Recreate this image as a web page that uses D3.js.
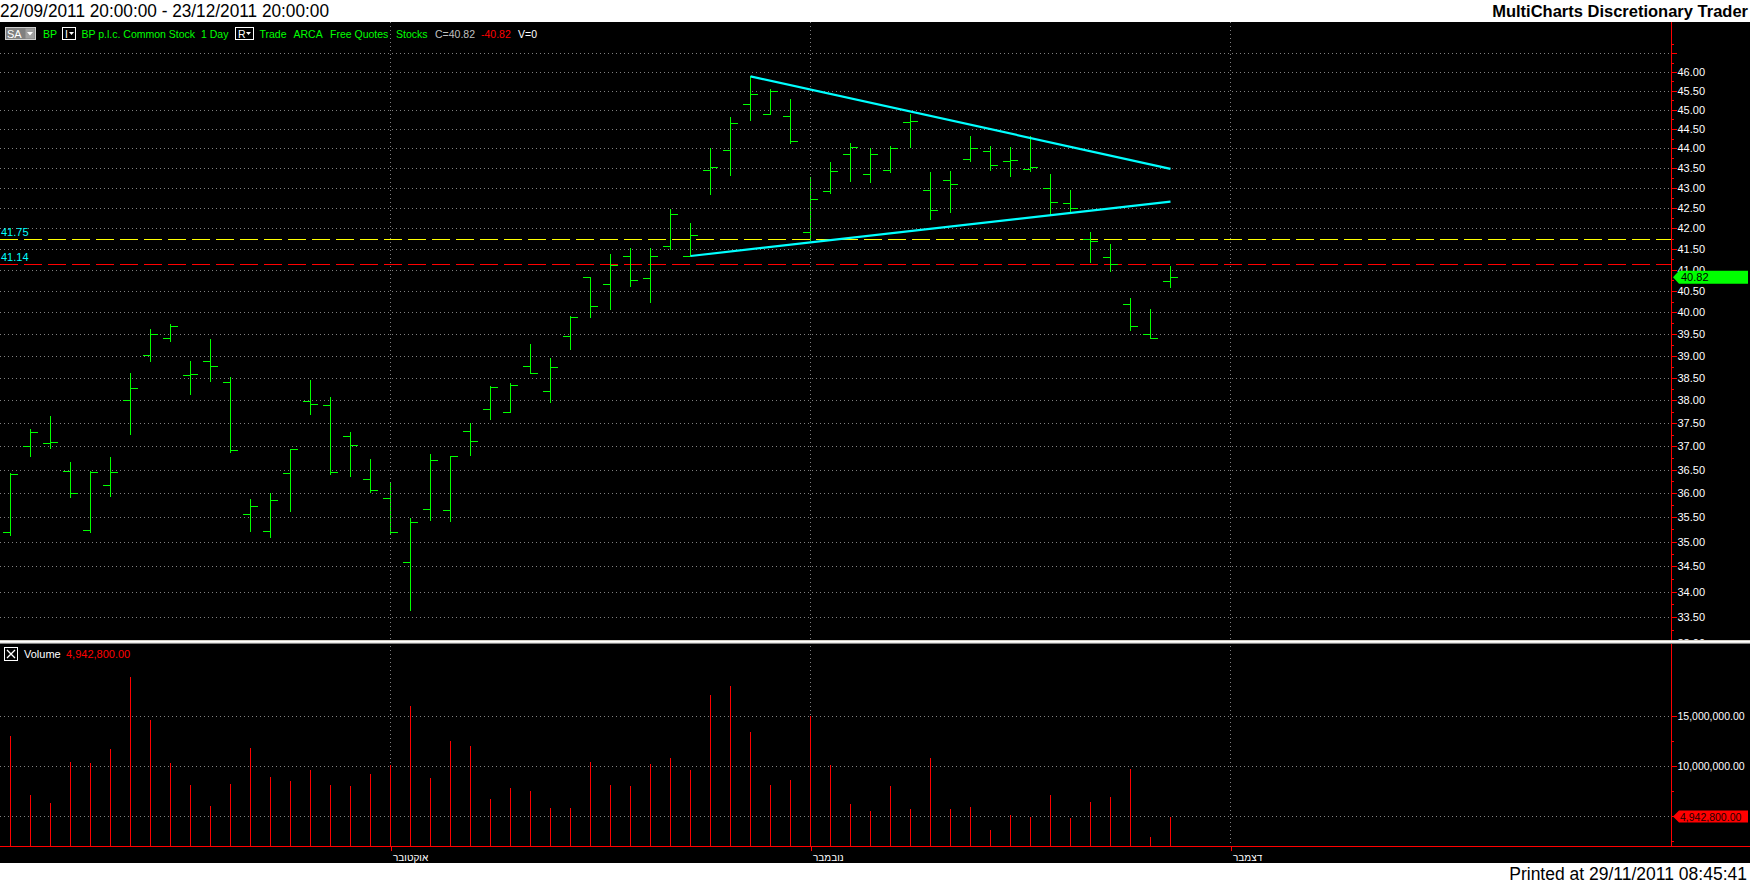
<!DOCTYPE html>
<html>
<head>
<meta charset="utf-8">
<script src="https://d3js.org/d3.v7.min.js"></script>
<style>
  body { margin: 0; background: #fff; }
  svg { display: block; }
  text { font-family: "Liberation Sans", Arial, sans-serif; }
</style>
</head>
<body>
<svg id="chart" width="1750" height="884"></svg>
<script>
// ---- data ----
const dates = [
  "2011-09-06","2011-09-07","2011-09-08","2011-09-09","2011-09-12","2011-09-13","2011-09-14","2011-09-15","2011-09-16",
  "2011-09-19","2011-09-20","2011-09-21","2011-09-22","2011-09-23","2011-09-26","2011-09-27","2011-09-28","2011-09-29","2011-09-30",
  "2011-10-03","2011-10-04","2011-10-05","2011-10-06","2011-10-07","2011-10-10","2011-10-11","2011-10-12","2011-10-13","2011-10-14",
  "2011-10-17","2011-10-18","2011-10-19","2011-10-20","2011-10-21","2011-10-24","2011-10-25","2011-10-26","2011-10-27","2011-10-28","2011-10-31",
  "2011-11-01","2011-11-02","2011-11-03","2011-11-04","2011-11-07","2011-11-08","2011-11-09","2011-11-10","2011-11-11",
  "2011-11-14","2011-11-15","2011-11-16","2011-11-17","2011-11-18","2011-11-21","2011-11-22","2011-11-23","2011-11-25","2011-11-28"
];
const opens  = [35.19,37.00,37.06,36.46,35.23,36.17,38.00,39.02,39.41,38.57,38.89,38.41,35.56,35.21,36.42,37.98,37.89,37.21,36.30,
                35.90,34.58,35.68,35.66,37.32,37.80,37.75,38.77,38.20,39.45,40.83,40.67,41.33,40.81,41.57,41.33,43.45,43.97,45.16,44.88,44.85,
                41.90,42.92,43.85,43.35,43.45,44.68,42.95,43.20,43.72,43.93,43.68,43.48,43.00,42.63,41.74,41.31,40.18,39.50,40.73];
const highs  = [36.42,37.38,37.66,36.66,36.46,36.76,38.60,39.60,39.72,38.89,39.39,38.53,35.88,36.00,36.95,38.46,38.07,37.31,36.72,
                36.22,35.48,36.83,36.80,37.50,38.31,38.39,39.26,38.94,39.91,40.83,41.38,41.53,41.53,42.48,42.13,44.00,44.81,45.90,45.54,45.27,
                43.27,43.66,44.14,44.00,44.05,44.88,43.41,43.43,44.33,44.06,44.03,44.32,43.35,42.96,41.91,41.63,40.33,40.08,41.10];
const lows   = [35.14,36.79,36.96,35.93,35.20,35.95,37.27,38.88,39.33,38.14,38.43,36.88,35.22,35.10,35.64,37.71,36.41,36.37,36.02,
                35.16,33.63,35.45,35.43,36.82,37.59,37.74,38.60,37.96,39.15,39.89,40.08,40.61,40.24,41.49,41.33,42.84,43.32,44.73,44.88,44.15,
                41.72,42.87,43.17,43.15,43.39,44.03,42.23,42.39,43.69,43.46,43.29,43.42,42.35,42.38,41.19,40.96,39.59,39.41,40.59];
const closes = [36.40,37.30,37.08,36.00,36.44,36.44,38.28,39.50,39.68,38.59,38.77,36.91,35.73,35.86,36.93,37.93,36.44,37.02,36.06,
                35.20,35.41,36.70,36.78,37.11,38.30,38.34,38.60,38.75,39.88,40.15,41.11,40.76,41.33,42.35,41.83,43.53,44.65,45.42,45.50,44.18,
                42.72,43.42,44.03,43.85,44.00,44.70,42.45,43.10,44.00,43.58,43.70,43.53,42.65,42.50,41.70,41.14,39.67,39.41,40.82];
const volumes = [13030000,7130000,6330000,10430000,10330000,11730000,18930000,14630000,10330000,8130000,6030000,8230000,11830000,
                 8930000,8530000,9630000,8130000,8030000,9230000,10130000,16030000,8830000,12530000,12030000,6730000,7830000,7530000,
                 5830000,5830000,10430000,8130000,8030000,10230000,10830000,9630000,17130000,18030000,13430000,8130000,8630000,
                 15000000,10130000,6230000,5530000,8030000,5730000,10830000,5730000,5930000,3630000,5130000,4930000,7130000,4830000,
                 6430000,6930000,9730000,2930000,4942800];

// trend lines: [start bar, start price, end bar, end price]
const upperTrend = [37, 45.885, 58, 43.48];
const lowerTrend = [34, 41.33, 58, 42.66];
const levelValues = [41.75, 41.14];
const levelColors = ["#ffff00", "#ff0000"];

const monthStarts = [19, 40, 61];
const monthNames = ["אוקטובר", "נובמבר", "דצמבר"];

const priceTicks = [33.0,33.5,34.0,34.5,35.0,35.5,36.0,36.5,37.0,37.5,38.0,38.5,39.0,39.5,40.0,
                    40.5,41.0,41.5,42.0,42.5,43.0,43.5,44.0,44.5,45.0,45.5,46.0,46.5];
const priceMinor = priceTicks.map(d => d + 0.25);
const volTicks = [5000000, 10000000, 15000000];
const volMinor = [2500000, 7500000, 12500000];

// ---- layout ----
const svg = d3.select("#chart");
const W = 1750, H = 884;
const axisX = 1671;
const panelTop = 22, priceBottom = 640, volTop = 644, volBottom = 846, blackBottom = 863;

const x = d3.scaleLinear().domain([0, 58]).range([10, 1170]);
const y = d3.scaleLog().domain([46, 33.5]).range([72, 617]);
const yv = d3.scaleLinear().domain([2000000, 15000000]).range([846, 716]);

const px = v => Math.round(v) + 0.5;

svg.append("rect").attr("width", W).attr("height", H).attr("fill", "#fff");
svg.append("rect").attr("x", 0).attr("y", panelTop).attr("width", W).attr("height", blackBottom - panelTop).attr("fill", "#000");

const defs = svg.append("defs");
defs.append("clipPath").attr("id", "clipPrice").append("rect")
  .attr("x", 0).attr("y", panelTop).attr("width", W).attr("height", priceBottom - panelTop);
defs.append("clipPath").attr("id", "clipPricePlot").append("rect")
  .attr("x", 0).attr("y", panelTop).attr("width", axisX).attr("height", priceBottom - panelTop);

// ---- price panel ----
const gp = svg.append("g").attr("clip-path", "url(#clipPricePlot)").attr("shape-rendering", "crispEdges");

gp.selectAll("line.grid").data(priceTicks).join("line")
  .attr("x1", 0).attr("x2", axisX).attr("y1", d => px(y(d))).attr("y2", d => px(y(d)))
  .attr("stroke", "#808080").attr("stroke-dasharray", "1,3");

svg.append("g").attr("shape-rendering", "crispEdges")
  .selectAll("line").data(monthStarts).join("line")
  .attr("x1", d => px(x(d))).attr("x2", d => px(x(d)))
  .attr("y1", panelTop).attr("y2", volBottom)
  .attr("stroke", "#808080").attr("stroke-dasharray", "1,3");

gp.selectAll("line.level").data(levelValues).join("line")
  .attr("x1", 0).attr("x2", axisX).attr("y1", d => px(y(d))).attr("y2", d => px(y(d)))
  .attr("stroke", (d, i) => levelColors[i]).attr("stroke-dasharray", "18,6");
gp.selectAll("text.level").data(levelValues).join("text")
  .attr("x", 1).attr("y", d => Math.round(y(d)) - 3)
  .attr("fill", "#00ffff").attr("font-size", 11)
  .text(d => d.toFixed(2));

const bars = gp.selectAll("g.bar").data(dates).join("g")
  .attr("stroke", "#00ff00").attr("stroke-width", 1);
bars.append("line")
  .attr("x1", (d, i) => px(x(i))).attr("x2", (d, i) => px(x(i)))
  .attr("y1", (d, i) => Math.round(y(highs[i]))).attr("y2", (d, i) => Math.round(y(lows[i])) + 1);
bars.append("line")
  .attr("x1", (d, i) => Math.round(x(i)) - 7).attr("x2", (d, i) => Math.round(x(i)))
  .attr("y1", (d, i) => px(y(opens[i]))).attr("y2", (d, i) => px(y(opens[i])));
bars.append("line")
  .attr("x1", (d, i) => Math.round(x(i)) + 1).attr("x2", (d, i) => Math.round(x(i)) + 8)
  .attr("y1", (d, i) => px(y(closes[i]))).attr("y2", (d, i) => px(y(closes[i])));

[upperTrend, lowerTrend].forEach(t => {
  svg.append("line")
    .attr("x1", x(t[0]) + 0.5).attr("y1", y(t[1]))
    .attr("x2", x(t[2]) + 0.5).attr("y2", y(t[3]))
    .attr("stroke", "#00ffff").attr("stroke-width", 2.2);
});

// price axis
const gAxis = svg.append("g").attr("clip-path", "url(#clipPrice)");
const pAxis = gAxis.append("g").attr("transform", `translate(${axisX + 0.5},0)`)
  .call(d3.axisRight(y).tickValues(priceTicks).tickSize(5).tickPadding(1)
    .tickFormat(d => d === 46.5 ? "" : d.toFixed(2)));
const pMinor = gAxis.append("g").attr("transform", `translate(${axisX + 0.5},0)`)
  .call(d3.axisRight(y).tickValues(priceMinor).tickSize(2).tickFormat(""));
[pAxis, pMinor].forEach(g => {
  g.select(".domain").remove();
  g.selectAll("line").attr("stroke", "#ff0000").attr("shape-rendering", "crispEdges");
  g.selectAll("text").attr("fill", "#fff").attr("font-size", 11)
    .attr("font-family", "Liberation Sans, Arial, sans-serif");
});

// last price marker (drawn over the axis label it covers, as in the platform)
const lastY = y(closes[closes.length - 1]);
svg.append("path")
  .attr("d", `M${axisX + 2},${lastY} L${axisX + 8},${lastY - 6.5} L1748,${lastY - 6.5} L1748,${lastY + 6.5} L${axisX + 8},${lastY + 6.5} Z`)
  .attr("fill", "#00ff00");
svg.append("text").attr("x", axisX + 10).attr("y", lastY + 4)
  .attr("fill", "#000").attr("font-size", 11)
  .text(closes[closes.length - 1].toFixed(2));

// ---- volume panel ----
const gv = svg.append("g").attr("shape-rendering", "crispEdges");
gv.selectAll("line.grid").data(volTicks).join("line")
  .attr("x1", 0).attr("x2", axisX).attr("y1", d => px(yv(d))).attr("y2", d => px(yv(d)))
  .attr("stroke", "#808080").attr("stroke-dasharray", "1,3");
gv.selectAll("line.vol").data(volumes).join("line")
  .attr("x1", (d, i) => px(x(i))).attr("x2", (d, i) => px(x(i)))
  .attr("y1", d => Math.round(yv(d))).attr("y2", volBottom)
  .attr("stroke", "#ff0000");

const vAxis = svg.append("g").attr("transform", `translate(${axisX + 0.5},0)`)
  .call(d3.axisRight(yv).tickValues(volTicks).tickSize(5).tickPadding(1).tickFormat(d3.format(",.2f")));
const vMinor = svg.append("g").attr("transform", `translate(${axisX + 0.5},0)`)
  .call(d3.axisRight(yv).tickValues(volMinor).tickSize(2).tickFormat(""));
[vAxis, vMinor].forEach(g => {
  g.select(".domain").remove();
  g.selectAll("line").attr("stroke", "#ff0000").attr("shape-rendering", "crispEdges");
  g.selectAll("text").attr("fill", "#fff").attr("font-size", 10.5)
    .attr("font-family", "Liberation Sans, Arial, sans-serif");
});
// the 5,000,000 label sits under the last-volume marker
vAxis.selectAll(".tick").filter(d => d === 5000000).select("text").remove();

const lastV = yv(volumes[volumes.length - 1]);
svg.append("path")
  .attr("d", `M${axisX + 2},${lastV} L${axisX + 8},${lastV - 6} L1748,${lastV - 6} L1748,${lastV + 6} L${axisX + 8},${lastV + 6} Z`)
  .attr("fill", "#ff0000");
svg.append("text").attr("x", axisX + 9).attr("y", lastV + 4)
  .attr("fill", "#200000").attr("font-size", 10.5)
  .text(d3.format(",.2f")(volumes[volumes.length - 1]));

// axis frame lines
svg.append("line").attr("x1", axisX + 0.5).attr("x2", axisX + 0.5).attr("y1", panelTop).attr("y2", volBottom)
  .attr("stroke", "#ff0000").attr("shape-rendering", "crispEdges");
svg.append("line").attr("x1", 0).attr("x2", W).attr("y1", volBottom + 0.5).attr("y2", volBottom + 0.5)
  .attr("stroke", "#ff0000").attr("shape-rendering", "crispEdges");

// time axis
const tAxis = svg.append("g").attr("transform", `translate(0.5,${volBottom})`)
  .call(d3.axisBottom(x).tickValues(monthStarts).tickSize(5).tickFormat((d, i) => monthNames[i]));
tAxis.select(".domain").remove();
tAxis.selectAll("line").attr("stroke", "#ff0000").attr("shape-rendering", "crispEdges");
tAxis.selectAll("text").attr("fill", "#fff").attr("font-size", 10)
  .attr("font-family", "DejaVu Sans, sans-serif")
  .attr("text-anchor", "start").attr("dx", 2).attr("y", 6).attr("dy", "0.9em");

// panel separator
svg.append("rect").attr("x", 0).attr("y", priceBottom).attr("width", W).attr("height", 4).attr("fill", "#d4d0c8");
svg.append("rect").attr("x", 0).attr("y", priceBottom + 1).attr("width", W).attr("height", 1.5).attr("fill", "#ffffff");
svg.append("rect").attr("x", 0).attr("y", priceBottom + 3).attr("width", W).attr("height", 1).attr("fill", "#808080");

// ---- header rows ----
svg.append("text").attr("x", 0).attr("y", 17)
  .attr("font-family", "Liberation Serif, Times New Roman, serif").attr("font-size", 18)
  .attr("textLength", 329).attr("lengthAdjust", "spacingAndGlyphs")
  .attr("fill", "#000").text("22/09/2011 20:00:00 - 23/12/2011 20:00:00");
svg.append("text").attr("x", 1748).attr("y", 17).attr("text-anchor", "end")
  .attr("font-family", "DejaVu Sans, Verdana, sans-serif").attr("font-weight", "bold").attr("font-size", 16.5)
  .attr("fill", "#000").text("MultiCharts Discretionary Trader");
svg.append("text").attr("x", 1747).attr("y", 880).attr("text-anchor", "end")
  .attr("font-family", "Liberation Serif, Times New Roman, serif").attr("font-size", 17.5)
  .attr("fill", "#000").text("Printed at 29/11/2011 08:45:41");

// legend strip of the price panel
const hdr = svg.append("g").attr("font-size", 10.5);
hdr.append("rect").attr("x", 5.5).attr("y", 27.5).attr("width", 30).attr("height", 12)
  .attr("fill", "#808080").attr("stroke", "#d0d0d0");
hdr.append("rect").attr("x", 25.5).attr("y", 28.5).attr("width", 9).attr("height", 10).attr("fill", "#a0a0a0");
hdr.append("path").attr("d", "M27,32 L33,32 L30,35.5 Z").attr("fill", "#fff");
hdr.append("text").attr("x", 7).attr("y", 37.5).attr("fill", "#fff").attr("font-size", 11).text("SA");
[[62, "I"], [235, "R"]].forEach(b => {
  hdr.append("rect").attr("x", b[0] + 0.5).attr("y", 27.5).attr("width", b[1] === "I" ? 13 : 18).attr("height", 12)
    .attr("fill", "#000").attr("stroke", "#fff");
  hdr.append("text").attr("x", b[0] + 3).attr("y", 37.5).attr("fill", "#fff").text(b[1]);
  const ax = b[0] + (b[1] === "I" ? 7 : 11);
  hdr.append("path").attr("d", `M${ax},32 L${ax + 5},32 L${ax + 2.5},35 Z`).attr("fill", "#fff");
});
const legendItems = [
  ["BP", 43, "#00ff00"], ["BP p.l.c. Common Stock", 81.5, "#00ff00"], ["1 Day", 201, "#00ff00"],
  ["Trade", 259.5, "#00ff00"], ["ARCA", 293.5, "#00ff00"], ["Free Quotes", 330, "#00ff00"], ["Stocks", 396, "#00ff00"],
  ["C=40.82", 435, "#c0c0c0"], ["-40.82", 481, "#ff0000"], ["V=0", 518, "#ffffff"]
];
hdr.selectAll("text.item").data(legendItems).join("text")
  .attr("x", d => d[1]).attr("y", 37.5).attr("fill", d => d[2]).text(d => d[0]);

// legend of the volume panel
const vh = svg.append("g").attr("font-size", 11);
vh.append("rect").attr("x", 4.5).attr("y", 647.5).attr("width", 13).attr("height", 13).attr("fill", "none").attr("stroke", "#fff");
vh.append("path").attr("d", "M7,650 L15,658 M15,650 L7,658").attr("stroke", "#fff").attr("stroke-width", 1.3);
vh.append("text").attr("x", 24).attr("y", 658).attr("fill", "#fff").text("Volume");
vh.append("text").attr("x", 66).attr("y", 658).attr("fill", "#ff0000")
  .text(d3.format(",.2f")(volumes[volumes.length - 1]));
</script>
</body>
</html>
